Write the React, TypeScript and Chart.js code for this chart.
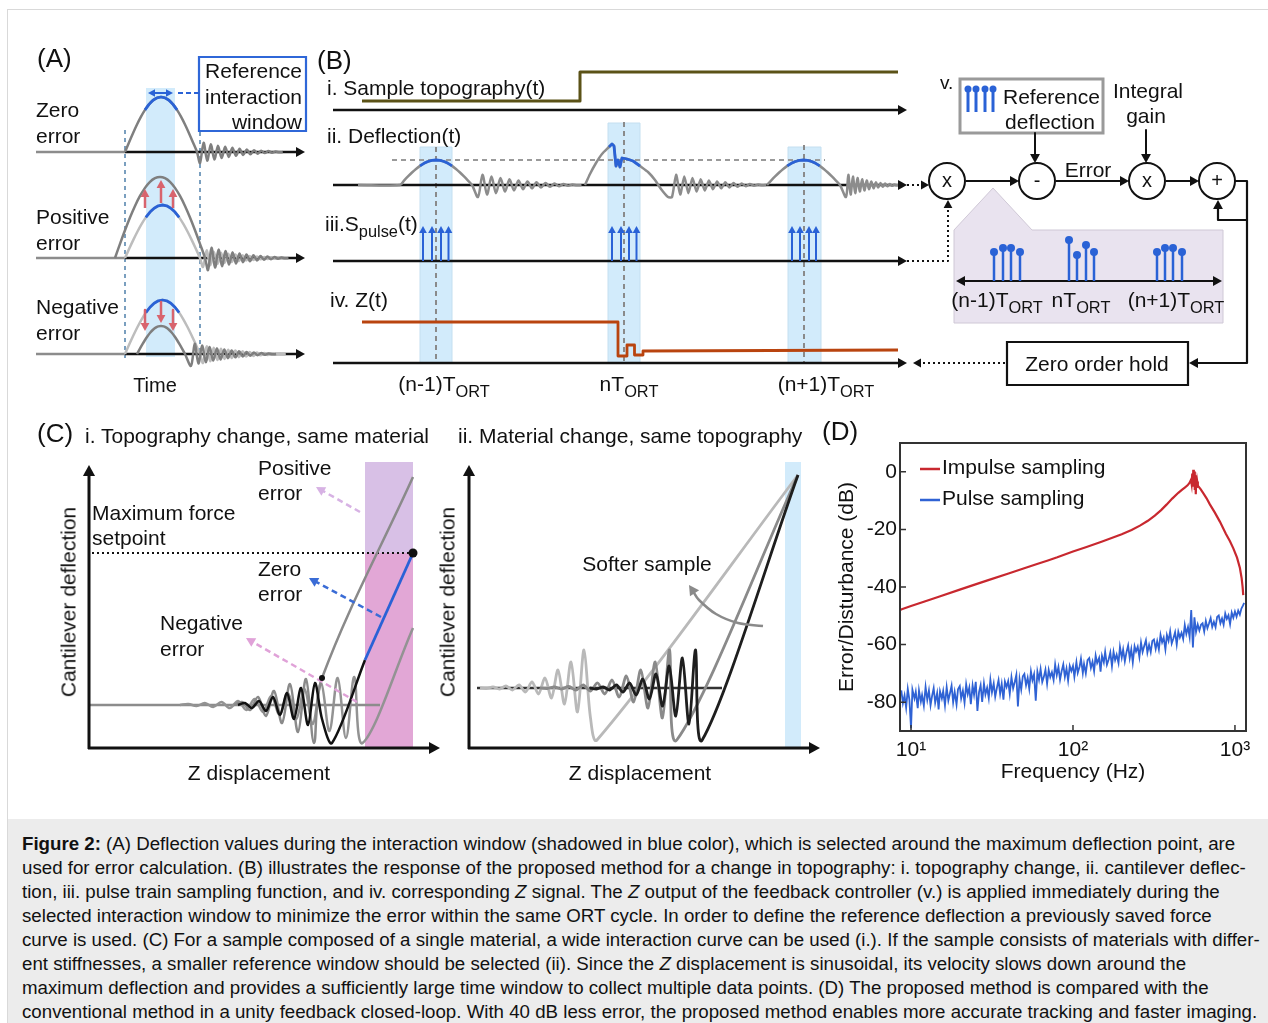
import React, { useEffect, useRef } from 'react';
import { Chart, registerables } from 'chart.js';

Chart.register(...registerables);

const FONT = '"Liberation Sans", Arial, Helvetica, sans-serif';
const INK = '#111111';
const RED = '#c8282f';
const BLUE = '#2f62d4';
const SBLUE = '#2a62d6';
const GRAY_D = '#7f7f7f';
const GRAY_M = '#8c8c8c';
const GRAY_L = '#bdbdbd';

// ================= Panel D data =================
const xTickValues = [10, 100, 1000];
const xTickLabels = ['10¹', '10²', '10³'];
const yTickValues = [0, -20, -40, -60, -80];
const seriesLabels = ['Impulse sampling', 'Pulse sampling'];

const impulseFreq = [
  8.55, 8.77, 10, 12, 15, 20, 25, 30, 40, 50, 60, 70, 80, 100, 120, 150, 200, 230, 259, 290,
  320, 350, 378, 410, 447, 470, 490, 510, 525, 535, 540, 545, 549, 553, 557, 561, 565, 569, 573, 577,
  581, 585, 590, 600, 615, 640, 668, 700, 750, 807, 880, 930, 977, 1030, 1073, 1100, 1115, 1125,
];
const impulseDb = [
  -48, -47.7, -46.6, -45.1, -43.3, -40.9, -39.1, -37.6, -35.3, -33.5, -32, -30.8, -29.7, -27.7, -26.2, -24.3, -21.7, -20.2, -18.7, -17,
  -15.2, -13.3, -11.4, -9.3, -7.3, -6.3, -5.5, -4.7, -3.8, -2.8, -4.2, -0.6, -5.2, 0.7, -3.2, 0.1, -6.3, -1.2, -7.8, -2.3,
  -5.6, -3.4, -4.8, -5.3, -6.1, -7.6, -9.2, -11.3, -14.1, -17.3, -21.6, -24, -26.6, -29.8, -33.4, -37, -40, -42.8,
];

const pulseFreq = [
  8.71, 8.91, 9.12, 9.33, 9.55, 9.77,
  10.0, 10.2, 10.5, 10.7, 11.0, 11.2, 11.5, 11.7, 12.0, 12.3,
  12.6, 12.9, 13.2, 13.5, 13.8, 14.1, 14.5, 14.8, 15.1, 15.5,
  15.8, 16.2, 16.6, 17.0, 17.4, 17.8, 18.2, 18.6, 19.1, 19.5,
  20.0, 20.4, 20.9, 21.4, 21.9, 22.4, 22.9, 23.4, 24.0, 24.5,
  25.1, 25.7, 26.3, 26.9, 27.5, 28.2, 28.8, 29.5, 30.2, 30.9,
  31.6, 32.4, 33.1, 33.9, 34.7, 35.5, 36.3, 37.2, 38.0, 38.9,
  39.8, 40.7, 41.7, 42.7, 43.7, 44.7, 45.7, 46.8, 47.9, 49.0,
  50.1, 51.3, 52.5, 53.7, 55.0, 56.2, 57.5, 58.9, 60.3, 61.7,
  63.1, 64.6, 66.1, 67.6, 69.2, 70.8, 72.4, 74.1, 75.9, 77.6,
  79.4, 81.3, 83.2, 85.1, 87.1, 89.1, 91.2, 93.3, 95.5, 97.7,
  100, 102, 105, 107, 110, 112, 115, 117, 120, 123,
  126, 129, 132, 135, 138, 141, 145, 148, 151, 155,
  158, 162, 166, 170, 174, 178, 182, 186, 191, 195,
  200, 204, 209, 214, 219, 224, 229, 234, 240, 245,
  251, 257, 263, 269, 275, 282, 288, 295, 302, 309,
  316, 324, 331, 339, 347, 355, 363, 372, 380, 389,
  398, 407, 417, 427, 437, 447, 457, 468, 479, 490,
  501, 513, 525, 537, 550, 562, 575, 589, 603, 617,
  631, 646, 661, 676, 692, 708, 724, 741, 759, 776,
  794, 813, 832, 851, 871, 891, 912, 933, 955, 977,
  1000, 1023, 1047, 1072, 1096, 1122, 1140,
];
const pulseDb = [
  -75.9, -80.3, -77.6, -81.9, -75.4, -79.1,
  -89, -75.6, -78.7, -76.4, -82.1, -75.9, -79.8, -77.5, -81.2, -74.7,
  -79.2, -75.9, -81.1, -77.7, -75.1, -80.2, -76.8, -82.5, -76.2, -78.7,
  -76.1, -81.1, -74.8, -79.4, -76.9, -74.3, -80, -76.4, -80.8, -75.5,
  -74.4, -78.7, -76, -80.2, -73.8, -77.2, -74.9, -80.7, -74.2, -77.4,
  -72.9, -83, -76.5, -74.1, -79.9, -73.5, -77.3, -75, -78.6, -72.2,
  -76.6, -73.5, -78.1, -75, -72.3, -77.1, -73.6, -79.1, -72.8, -74.7,
  -72.7, -77.1, -71.3, -75.2, -73, -70.5, -81.5, -72, -75.6, -71,
  -70.2, -74.1, -71.5, -75.3, -69.3, -72.4, -70.3, -79.5, -69.4, -72.2,
  -68.5, -73, -71.2, -68.7, -73.6, -68.8, -71.3, -69.6, -72.3, -66.9,
  -70.6, -67.8, -72.2, -69.2, -66.9, -71.2, -68.3, -72.5, -67.4, -69.2,
  -67.4, -71.2, -66.1, -69.8, -67.5, -64.9, -69.9, -66.7, -70, -65.4,
  -64.7, -68.1, -65.9, -69.2, -63.8, -66.4, -64.6, -69.4, -63.9, -66.2,
  -62.5, -67, -65.2, -62.7, -67.5, -62.5, -65.4, -63.5, -66.4, -60.8,
  -64.5, -61.7, -65.8, -62.6, -60.3, -64.7, -61.6, -66.2, -60.6, -62.4,
  -60.7, -64.3, -59.3, -62.6, -60.6, -58.5, -62.8, -60.1, -62.6, -58.7,
  -58.2, -61.5, -58.8, -61.7, -56.6, -59.2, -57.6, -61.7, -56.7, -58.7,
  -55.4, -59.6, -57.8, -55.7, -60, -55.5, -57.5, -55.9, -58.1, -53.2,
  -56.3, -53.9, -57.4, -48, -61, -50.5, -55.6, -53, -55.1, -53.1,
  -52.6, -55.5, -51.8, -54.3, -52.6, -50.8, -53.9, -52.1, -54, -50.4,
  -49.9, -52.6, -50.9, -53.1, -49.2, -51.1, -49.8, -52.9, -48.9, -50.7,
  -48.5, -50.3, -48.2, -49.6, -47.5, -46.4, -45.5,
];

// ================= Schematic data (panels A, B, C) =================
type Pt = [number, number];
interface Stroke { pts: Pt[]; color: string; width?: number; dash?: number[]; tension?: number; head?: 'end' | 'start' | 'both'; hs?: number }
interface Shape { pts: Pt[]; fill?: string; stroke?: string; width?: number }
interface Dot { x: number; y: number; r: number; fill: string; stroke?: string; width?: number }

const archShape = [0, 0.174, 0.342, 0.5, 0.643, 0.766, 0.866, 0.94, 0.985, 1, 0.985, 0.94, 0.866, 0.766, 0.643, 0.5, 0.342, 0.174, 0];
const ringShape = [1, -0.85, 0.8, -0.7, 0.68, -0.58, 0.55, -0.47, 0.45, -0.38, 0.35, -0.3, 0.28, -0.23, 0.21, -0.17, 0.15, -0.12, 0.1, -0.08, 0.06, -0.04, 0.03, 0];
const ciWaveA = [0, -1, 1, -2, 2, -3, 3, -4, 5, -6, 7, -9, 10, -12, 14, -16, 19, -22, 26, -27, 33, -28, 38];
const ciWaveB = [0, -3, 5, -8, 11, -14, 18, -21, 27, -26, 38, -27];
const ciWaveC = [0, -2, 3, -4, 6, -8, 10, -12, 14, -17, 20, -22, 14];
const ciiLight = [0, 0.5, -1, 1, -2, 2, -3, 4, -6, 6, -10, 10, -18, 16, -26, 24, -38, 30, 52];
const ciiMid = [0, 0.5, -1, 1, -1.5, 2, -3, 3, -5, 6, -8, 9, -12, 14, -18, 20, -26, 30, -38, 52];
const ciiDark = [0, 1, -1, 2, -3, 4, -5, 7, -9, 11, -14, 18, -22, 28, -30, 36, -38, 52];

const archPts = (x0: number, x1: number, base: number, amp: number, from = 0, to = archShape.length - 1): Pt[] => {
  const n = archShape.length - 1;
  const out: Pt[] = [];
  for (let k = from; k <= to; k++) out.push([x0 + ((x1 - x0) * k) / n, base - amp * archShape[k]]);
  return out;
};
const ringPts = (x0: number, step: number, base: number, amp: number): Pt[] => ringShape.map((v, k) => [x0 + step * k, base + amp * v]);
const wavePts = (x0: number, step: number, base: number, offs: number[]): Pt[] => offs.map((v, k) => [x0 + step * k, base + v]);
const rect = (x0: number, y0: number, x1: number, y1: number): Pt[] => [[x0, y0], [x1, y0], [x1, y1], [x0, y1]];

const aRowsY = [152, 258, 354];
const aRedArrows: [number, number, number][] = [[145, 208, 189], [161, 203, 180], [173, 208, 189], [145, 310, 331], [161, 302, 323], [173, 310, 331]];
const bAxesY = [110, 185, 261, 363];
const bBands: [number, number, number, number][] = [[420, 147, 452, 363], [608, 123, 640, 363], [788, 147, 821, 363]];
const bCenters: [number, number][] = [[436, 147], [624, 122], [804, 145]];
const bPulseX = [423, 432, 441, 448.5, 612, 621, 629, 636.5, 792, 800, 809, 816];
const topoLine: Pt[] = [[362, 101], [580, 101], [580, 72], [898, 72]];
const zLine: Pt[] = [[362, 322], [618, 322], [618, 356], [627, 356], [627, 345], [634.5, 345], [634.5, 355], [643, 355], [643, 351], [898, 350]];
const defl2Rise: Pt[] = [[585, 185], [590, 174], [596, 163], [602, 154], [609, 147]];
const defl2Blue: Pt[] = [[609, 147], [612, 144], [614, 146], [616, 166], [618, 160], [620, 167], [622, 158], [627, 159], [633, 161], [640, 166]];
const defl2Fall: Pt[] = [[640, 166], [648, 172], [655, 180], [661, 189], [668, 197]];
const junctions: Pt[] = [[947, 181], [1037, 181], [1147, 181], [1217, 181]];
const refIconX = [968, 976, 985, 993];
const calloutStems: Pt[] = [
  [994, 252], [1003, 248], [1011, 248], [1020, 252],
  [1069, 240], [1077, 255], [1086, 245], [1094, 252],
  [1157, 252], [1165, 248], [1173, 248], [1182, 252],
];

const strokes: Stroke[] = [
  // ---- Panel A ----
  { pts: [[125, 130], [125, 358]], color: '#7a9fbf', width: 2, dash: [4, 4] },
  { pts: [[200, 132], [200, 358]], color: '#7a9fbf', width: 2, dash: [4, 4] },
  ...aRowsY.map((y) => ({ pts: [[36, y], [125, y]] as Pt[], color: GRAY_M, width: 2.5 })),
  ...aRowsY.map((y) => ({ pts: [[125, y], [305, y]] as Pt[], color: INK, width: 2.5, head: 'end' as const, hs: 9 })),
  { pts: [...archPts(125, 197, 152, 55), ...ringPts(200, 3.6, 152, 11)], color: GRAY_D, width: 2.5, tension: 0.3 },
  { pts: archPts(125, 197, 152, 55, 5, 13), color: SBLUE, width: 2.8 },
  { pts: [...archPts(125, 200, 258, 53), ...ringPts(203, 3.6, 258, 9)], color: GRAY_L, width: 2.5, tension: 0.3 },
  { pts: [...archPts(115, 205, 258, 81), ...ringPts(208, 3.5, 258, 12)], color: GRAY_D, width: 2.5, tension: 0.3 },
  { pts: archPts(125, 200, 258, 53, 5, 13), color: SBLUE, width: 2.8 },
  { pts: [...archPts(125, 200, 354, 54), ...ringPts(203, 3.6, 354, 9)], color: GRAY_L, width: 2.5, tension: 0.3 },
  { pts: [...archPts(137, 185, 354, 28), ...ringPts(191, 3.7, 354, 12)], color: GRAY_D, width: 2.5, tension: 0.3 },
  { pts: archPts(125, 200, 354, 54, 5, 13), color: SBLUE, width: 2.8 },
  ...aRedArrows.map(([x, y0, y1]) => ({ pts: [[x, y0], [x, y1]] as Pt[], color: '#d8646e', width: 2.5, head: 'end' as const, hs: 8 })),
  { pts: [[199, 93], [177, 93]], color: SBLUE, width: 2, dash: [5, 3] },
  { pts: [[148, 93], [173, 93]], color: SBLUE, width: 2, head: 'both', hs: 7 },
  // ---- Panel B ----
  ...bCenters.map(([x, y]) => ({ pts: [[x, y], [x, 363]] as Pt[], color: '#8a8a8a', width: 2, dash: [5, 4] })),
  ...bAxesY.map((y) => ({ pts: [[333, y], [907, y]] as Pt[], color: INK, width: 2.5, head: 'end' as const, hs: 9 })),
  { pts: topoLine, color: '#5b5217', width: 3 },
  { pts: [[392, 160], [825, 160]], color: '#9a9a9a', width: 2, dash: [5, 4] },
  { pts: [[358, 185], ...archPts(400, 472, 185, 25), ...ringPts(478, 4.5, 185, 12)], color: GRAY_M, width: 2.5, tension: 0.3 },
  { pts: archPts(400, 472, 185, 25, 5, 13), color: SBLUE, width: 2.8 },
  { pts: [...defl2Rise, ...defl2Blue, ...defl2Fall, ...ringPts(672, 4.1, 185, 12)], color: GRAY_M, width: 2.5, tension: 0.2 },
  { pts: defl2Blue, color: SBLUE, width: 2.8 },
  { pts: [...archPts(767, 840, 185, 25), ...ringPts(846, 2.3, 185, 12)], color: GRAY_M, width: 2.5, tension: 0.3 },
  { pts: archPts(767, 840, 185, 25, 5, 13), color: SBLUE, width: 2.8 },
  ...bPulseX.map((x) => ({ pts: [[x, 261], [x, 226]] as Pt[], color: SBLUE, width: 2, head: 'end' as const, hs: 7 })),
  { pts: zLine, color: '#b9440f', width: 2.8 },
  // ---- Block diagram v ----
  { pts: [[907, 185], [929, 185]], color: INK, width: 2, dash: [2, 3], head: 'end', hs: 8 },
  { pts: [[907, 261], [948, 261], [948, 200]], color: INK, width: 2, dash: [2, 3], head: 'end', hs: 8 },
  { pts: [[1005, 363], [913, 363]], color: INK, width: 2, dash: [2, 3], head: 'end', hs: 8 },
  { pts: [[966, 181], [1019, 181]], color: INK, width: 2, head: 'end', hs: 9 },
  { pts: [[1056, 181], [1129, 181]], color: INK, width: 2, head: 'end', hs: 9 },
  { pts: [[1166, 181], [1199, 181]], color: INK, width: 2, head: 'end', hs: 9 },
  { pts: [[1035, 133], [1035, 163]], color: INK, width: 2, head: 'end', hs: 9 },
  { pts: [[1146, 130], [1146, 163]], color: INK, width: 2, head: 'end', hs: 9 },
  { pts: [[1235, 181], [1247, 181], [1247, 363], [1189, 363]], color: INK, width: 2.2, head: 'end', hs: 9 },
  { pts: [[1247, 220], [1218, 220], [1218, 200]], color: INK, width: 2.2, head: 'end', hs: 9 },
  { pts: [[956, 281], [1222, 281]], color: INK, width: 2.2, head: 'both', hs: 9 },
  ...calloutStems.map(([x, y]) => ({ pts: [[x, 281], [x, y]] as Pt[], color: SBLUE, width: 2.5 })),
  ...refIconX.map((x) => ({ pts: [[x, 112], [x, 89]] as Pt[], color: SBLUE, width: 3 })),
  // ---- Panel C-i ----
  { pts: [[92, 553], [413, 553]], color: INK, width: 2, dash: [2, 3] },
  { pts: [[89, 705], [380, 705]], color: GRAY_M, width: 2.5 },
  { pts: [...wavePts(180, 8.3, 705, ciWaveA), [413, 628]], color: '#939393', width: 2.5, tension: 0.35 },
  { pts: [...wavePts(234, 8, 705, ciWaveB), [413, 477]], color: '#8a8a8a', width: 2.5, tension: 0.35 },
  { pts: [...wavePts(238, 7, 705, ciWaveC), [332, 743], [365, 660]], color: INK, width: 2.5, tension: 0.3 },
  { pts: [[365, 660], [413, 553]], color: SBLUE, width: 2.8 },
  { pts: [[360, 512], [316, 487]], color: '#d7b2e4', width: 2.5, dash: [6, 4], head: 'end', hs: 9 },
  { pts: [[381, 617], [309, 578]], color: '#3a6cd6', width: 2.5, dash: [6, 4], head: 'end', hs: 9 },
  { pts: [[357, 702], [246, 638]], color: '#e0a2d8', width: 2.5, dash: [6, 4], head: 'end', hs: 9 },
  { pts: [[89, 749], [89, 465]], color: INK, width: 3, head: 'end', hs: 11 },
  { pts: [[88, 748], [440, 748]], color: INK, width: 3, head: 'end', hs: 11 },
  // ---- Panel C-ii ----
  { pts: [[477, 688], [722, 688]], color: '#333333', width: 2.5 },
  { pts: [...wavePts(480, 6.5, 688, ciiLight), [798, 475]], color: '#b9b9b9', width: 2.8, tension: 0.3 },
  { pts: [...wavePts(540, 7.2, 688, ciiMid), [798, 475]], color: '#8a8a8a', width: 2.8, tension: 0.3 },
  { pts: [...wavePts(590, 6.6, 688, ciiDark), [798, 475]], color: '#1e1e1e', width: 2.8, tension: 0.3 },
  { pts: [[763, 626], [738, 623], [716, 614], [699, 600], [689, 585]], color: '#8a8a8a', width: 2.5, tension: 0.4, head: 'end', hs: 10 },
  { pts: [[469, 749], [469, 465]], color: INK, width: 3, head: 'end', hs: 11 },
  { pts: [[468, 748], [820, 748]], color: INK, width: 3, head: 'end', hs: 11 },
];

const shapes: Shape[] = [
  { pts: rect(146, 88, 175, 357), fill: '#d2ebfb' },
  { pts: rect(199, 57, 306, 131), fill: '#ffffff', stroke: '#2f67d8', width: 2.2 },
  ...bBands.map(([x0, y0, x1, y1]) => ({ pts: rect(x0, y0, x1, y1), fill: '#d2ebfb', stroke: '#c4dff0', width: 1 })),
  { pts: rect(960, 79, 1103, 133), fill: '#ffffff', stroke: '#9a9a9a', width: 3 },
  { pts: [[954, 323], [954, 230], [993, 188], [1032, 230], [1223, 230], [1223, 323]], fill: '#e9e3ef', stroke: '#cfc8d6', width: 1 },
  { pts: rect(1007, 342, 1188, 385), fill: '#ffffff', stroke: INK, width: 2.2 },
  { pts: rect(365, 462, 413, 553), fill: '#d8c0e6' },
  { pts: rect(365, 553, 413, 748), fill: '#e2a7d6' },
  { pts: rect(785, 462, 801, 748), fill: '#d2ebfb' },
];

const dots: Dot[] = [
  ...junctions.map(([x, y]) => ({ x, y, r: 18, fill: '#ffffff', stroke: INK, width: 2 })),
  ...calloutStems.map(([x, y]) => ({ x, y, r: 4, fill: SBLUE })),
  ...refIconX.map((x) => ({ x, y: 89, r: 3.5, fill: SBLUE })),
  { x: 413, y: 553, r: 4.5, fill: INK },
  { x: 322, y: 678, r: 3, fill: INK },
];

interface Label { t: string; x: number; y: number; s?: number; a?: 'l' | 'c' | 'r'; rot?: boolean }
const labels: Label[] = [
  { t: '(A)', x: 37, y: 58, s: 26 },
  { t: 'Zero', x: 36, y: 109 }, { t: 'error', x: 36, y: 135 },
  { t: 'Positive', x: 36, y: 216 }, { t: 'error', x: 36, y: 242 },
  { t: 'Negative', x: 36, y: 306 }, { t: 'error', x: 36, y: 332 },
  { t: 'Time', x: 155, y: 385, a: 'c', s: 20 },
  { t: 'Reference', x: 302, y: 70, a: 'r' }, { t: 'interaction', x: 302, y: 96, a: 'r' }, { t: 'window', x: 302, y: 121, a: 'r' },
  { t: '(B)', x: 317, y: 60, s: 26 },
  { t: 'i. Sample topography(t)', x: 327, y: 87 },
  { t: 'ii. Deflection(t)', x: 327, y: 135 },
  { t: 'iii.S_{pulse}(t)', x: 325, y: 223 },
  { t: 'iv. Z(t)', x: 330, y: 299 },
  { t: '(n-1)T_{ORT}', x: 444, y: 383, a: 'c' },
  { t: 'nT_{ORT}', x: 629, y: 383, a: 'c' },
  { t: '(n+1)T_{ORT}', x: 826, y: 383, a: 'c' },
  { t: 'v.', x: 940, y: 82, s: 19 },
  { t: 'Reference', x: 1003, y: 96 },
  { t: 'deflection', x: 1050, y: 121, a: 'c' },
  { t: 'Integral', x: 1148, y: 90, a: 'c' },
  { t: 'gain', x: 1146, y: 115, a: 'c' },
  { t: 'Error', x: 1088, y: 169, a: 'c' },
  { t: 'x', x: 947, y: 180, a: 'c', s: 20 }, { t: '-', x: 1037, y: 180, a: 'c', s: 20 },
  { t: 'x', x: 1147, y: 180, a: 'c', s: 20 }, { t: '+', x: 1217, y: 180, a: 'c', s: 20 },
  { t: '(n-1)T_{ORT}', x: 997, y: 299, a: 'c' },
  { t: 'nT_{ORT}', x: 1081, y: 299, a: 'c' },
  { t: '(n+1)T_{ORT}', x: 1176, y: 299, a: 'c' },
  { t: 'Zero order hold', x: 1097, y: 363, a: 'c' },
  { t: '(C)', x: 37, y: 433, s: 26 },
  { t: 'i. Topography change, same material', x: 85, y: 435 },
  { t: 'ii. Material change, same topography', x: 458, y: 435 },
  { t: '(D)', x: 822, y: 431, s: 26 },
  { t: 'Maximum force', x: 92, y: 512 }, { t: 'setpoint', x: 92, y: 537 },
  { t: 'Positive', x: 258, y: 467 }, { t: 'error', x: 258, y: 492 },
  { t: 'Zero', x: 258, y: 568 }, { t: 'error', x: 258, y: 593 },
  { t: 'Negative', x: 160, y: 622 }, { t: 'error', x: 160, y: 648 },
  { t: 'Cantilever deflection', x: 68, y: 602, a: 'c', rot: true },
  { t: 'Z displacement', x: 259, y: 772, a: 'c' },
  { t: 'Cantilever deflection', x: 447, y: 602, a: 'c', rot: true },
  { t: 'Z displacement', x: 640, y: 772, a: 'c' },
  { t: 'Softer sample', x: 647, y: 563, a: 'c' },
];

// ================= helpers =================
function drawHead(ctx: CanvasRenderingContext2D, tip: Pt, from: Pt, size: number, color: string) {
  const ang = Math.atan2(tip[1] - from[1], tip[0] - from[0]);
  const bx = tip[0] - size * Math.cos(ang);
  const by = tip[1] - size * Math.sin(ang);
  const w = size * 0.55;
  ctx.beginPath();
  ctx.moveTo(tip[0], tip[1]);
  ctx.lineTo(bx + w * Math.sin(ang), by - w * Math.cos(ang));
  ctx.lineTo(bx - w * Math.sin(ang), by + w * Math.cos(ang));
  ctx.closePath();
  ctx.fillStyle = color;
  ctx.fill();
}

function shorten(tip: Pt, from: Pt, d: number): Pt {
  const ang = Math.atan2(tip[1] - from[1], tip[0] - from[0]);
  return [tip[0] - d * Math.cos(ang), tip[1] - d * Math.sin(ang)];
}

const schematicPlugin = {
  id: 'schematicDecor',
  beforeDatasetsDraw(chart: any) {
    const ctx: CanvasRenderingContext2D = chart.ctx;
    const X = (v: number) => chart.scales.x.getPixelForValue(v);
    const Y = (v: number) => chart.scales.y.getPixelForValue(v);
    ctx.save();
    for (const s of shapes) {
      ctx.beginPath();
      s.pts.forEach(([x, y], i) => (i ? ctx.lineTo(X(x), Y(y)) : ctx.moveTo(X(x), Y(y))));
      ctx.closePath();
      if (s.fill) { ctx.fillStyle = s.fill; ctx.fill(); }
      if (s.stroke) { ctx.setLineDash([]); ctx.strokeStyle = s.stroke; ctx.lineWidth = s.width ?? 1; ctx.stroke(); }
    }
    ctx.restore();
  },
  afterDatasetsDraw(chart: any) {
    const ctx: CanvasRenderingContext2D = chart.ctx;
    const X = (v: number) => chart.scales.x.getPixelForValue(v);
    const Y = (v: number) => chart.scales.y.getPixelForValue(v);
    const P = (p: Pt): Pt => [X(p[0]), Y(p[1])];
    ctx.save();
    for (const st of strokes) {
      if (!st.head) continue;
      const p = st.pts;
      const n = p.length;
      const hs = st.hs ?? 8;
      if (st.head === 'end' || st.head === 'both') drawHead(ctx, P(p[n - 1]), P(p[n - 2]), hs, st.color);
      if (st.head === 'start' || st.head === 'both') drawHead(ctx, P(p[0]), P(p[1]), hs, st.color);
    }
    for (const d of dots) {
      ctx.beginPath();
      ctx.arc(X(d.x), Y(d.y), d.r, 0, Math.PI * 2);
      ctx.fillStyle = d.fill;
      ctx.fill();
      if (d.stroke) { ctx.setLineDash([]); ctx.strokeStyle = d.stroke; ctx.lineWidth = d.width ?? 1; ctx.stroke(); }
    }
    ctx.restore();
  },
};

function Schematic() {
  const ref = useRef<HTMLCanvasElement>(null);
  useEffect(() => {
    if (!ref.current) return;
    const datasets = strokes
      .map((st) => {
        const pts = st.pts.slice();
        const hs = st.hs ?? 8;
        if (st.head === 'end' || st.head === 'both') pts[pts.length - 1] = shorten(pts[pts.length - 1], pts[pts.length - 2], hs * 0.6);
        if (st.head === 'start' || st.head === 'both') pts[0] = shorten(pts[0], pts[1], hs * 0.6);
        return {
          data: pts.map(([x, y]) => ({ x, y })),
          showLine: true,
          borderColor: st.color,
          backgroundColor: st.color,
          borderWidth: st.width ?? 2,
          borderDash: st.dash ?? [],
          tension: st.tension ?? 0,
          pointRadius: 0,
          pointHoverRadius: 0,
          fill: false,
          borderCapStyle: 'butt',
          borderJoinStyle: 'round',
        };
      })
      .reverse();
    const chart = new Chart(ref.current, {
      type: 'scatter',
      data: { datasets: datasets as any },
      options: {
        responsive: false,
        animation: false,
        devicePixelRatio: 1,
        events: [],
        layout: { padding: 0 },
        plugins: { legend: { display: false }, tooltip: { enabled: false } },
        scales: {
          x: { type: 'linear', min: 0, max: 1268, display: false },
          y: { type: 'linear', min: 0, max: 820, reverse: true, display: false },
        },
      },
      plugins: [schematicPlugin],
    } as any);
    return () => chart.destroy();
  }, []);
  return <canvas ref={ref} width={1268} height={820} style={{ position: 'absolute', left: 0, top: 0 }} />;
}

const panelDPlugin = {
  id: 'panelDFrame',
  afterDraw(chart: any) {
    const ctx: CanvasRenderingContext2D = chart.ctx;
    const a = chart.chartArea;
    const xs = chart.scales.x;
    const ys = chart.scales.y;
    ctx.save();
    ctx.strokeStyle = '#333333';
    ctx.lineWidth = 2;
    ctx.strokeRect(a.left, a.top, a.right - a.left, a.bottom - a.top);
    ctx.lineWidth = 1.5;
    ctx.beginPath();
    yTickValues.forEach((v) => { const py = ys.getPixelForValue(v); ctx.moveTo(a.left, py); ctx.lineTo(a.left + 6, py); });
    xTickValues.forEach((v) => { const px = xs.getPixelForValue(v); ctx.moveTo(px, a.bottom); ctx.lineTo(px, a.bottom - 6); });
    ctx.stroke();
    const colors = [RED, BLUE];
    ctx.font = `21px ${FONT}`;
    ctx.textBaseline = 'middle';
    ctx.textAlign = 'left';
    seriesLabels.forEach((lab, i) => {
      const y = a.top + 25 + i * 31;
      ctx.strokeStyle = colors[i];
      ctx.lineWidth = 2.5;
      ctx.beginPath();
      ctx.moveTo(a.left + 20, y + 1);
      ctx.lineTo(a.left + 40, y + 1);
      ctx.stroke();
      ctx.fillStyle = INK;
      ctx.fillText(lab, a.left + 42, y);
    });
    ctx.restore();
  },
};

function PanelD() {
  const ref = useRef<HTMLCanvasElement>(null);
  useEffect(() => {
    if (!ref.current) return;
    const chart = new Chart(ref.current, {
      type: 'scatter',
      data: {
        datasets: [
          {
            label: seriesLabels[0],
            data: impulseFreq.map((f, i) => ({ x: f, y: impulseDb[i] })),
            showLine: true, borderColor: RED, backgroundColor: RED, borderWidth: 2.2, pointRadius: 0, tension: 0,
          },
          {
            label: seriesLabels[1],
            data: pulseFreq.map((f, i) => ({ x: f, y: pulseDb[i] })),
            showLine: true, borderColor: BLUE, backgroundColor: BLUE, borderWidth: 1.8, pointRadius: 0, tension: 0,
          },
        ],
      },
      options: {
        responsive: false,
        animation: false,
        devicePixelRatio: 1,
        events: [],
        layout: { padding: { top: 23, right: 14, left: 0, bottom: 0 } },
        plugins: { legend: { display: false }, tooltip: { enabled: false } },
        scales: {
          x: {
            type: 'logarithmic', min: 8.55, max: 1170,
            afterBuildTicks: (s: any) => { s.ticks = xTickValues.map((v) => ({ value: v, major: true })); },
            afterFit: (s: any) => { s.height = 59; },
            grid: { display: false, drawTicks: false },
            border: { display: false },
            ticks: {
              autoSkip: false, maxRotation: 0, padding: 7, color: INK,
              font: { family: FONT, size: 21 },
              callback: (v: any) => xTickLabels[xTickValues.indexOf(Number(v))] ?? '',
            },
            title: { display: true, text: 'Frequency (Hz)', color: INK, font: { family: FONT, size: 21 }, padding: { top: 0, bottom: 5 } },
          },
          y: {
            type: 'linear', min: -90, max: 10,
            afterBuildTicks: (s: any) => { s.ticks = yTickValues.map((v) => ({ value: v })); },
            afterFit: (s: any) => { s.width = 80; },
            grid: { display: false, drawTicks: false },
            border: { display: false },
            ticks: { padding: 3, color: INK, font: { family: FONT, size: 21 } },
            title: { display: true, text: 'Error/Disturbance (dB)', color: INK, font: { family: FONT, size: 21 }, padding: { top: 15, bottom: 0 } },
          },
        },
      },
      plugins: [panelDPlugin],
    } as any);
    return () => chart.destroy();
  }, []);
  return <canvas ref={ref} width={440} height={370} style={{ position: 'absolute', left: 820, top: 420 }} />;
}

function rich(t: string) {
  const parts = t.split(/(_\{[^}]*\})/);
  return parts.map((p, i) =>
    p.startsWith('_{') ? (
      <span key={i} style={{ fontSize: '0.78em', position: 'relative', top: '0.35em' }}>{p.slice(2, -1)}</span>
    ) : (
      <React.Fragment key={i}>{p}</React.Fragment>
    )
  );
}

function Labels() {
  return (
    <>
      {labels.map((l, i) => {
        const tx = l.a === 'c' ? '-50%' : l.a === 'r' ? '-100%' : '0';
        return (
          <div
            key={i}
            style={{
              position: 'absolute', left: l.x, top: l.y,
              transform: `translate(${tx}, -50%)${l.rot ? ' rotate(-90deg)' : ''}`,
              fontSize: l.s ?? 21, lineHeight: 1, whiteSpace: 'nowrap', color: INK, fontFamily: FONT,
            }}
          >
            {rich(l.t)}
          </div>
        );
      })}
    </>
  );
}

function Caption() {
  const lineStyle: React.CSSProperties = { whiteSpace: 'nowrap', height: 24 };
  return (
    <div style={{ position: 'absolute', left: 22, top: 832, fontSize: 18.7, lineHeight: '24px', color: INK, fontFamily: FONT }}>
      <div style={lineStyle}><b>Figure 2:</b> (A) Deflection values during the interaction window (shadowed in blue color), which is selected around the maximum deflection point, are</div>
      <div style={lineStyle}>used for error calculation. (B) illustrates the response of the proposed method for a change in topography: i. topography change, ii. cantilever deflec-</div>
      <div style={lineStyle}>tion, iii. pulse train sampling function, and iv. corresponding <i>Z</i> signal. The <i>Z</i> output of the feedback controller (v.) is applied immediately during the</div>
      <div style={lineStyle}>selected interaction window to minimize the error within the same ORT cycle. In order to define the reference deflection a previously saved force</div>
      <div style={lineStyle}>curve is used. (C) For a sample composed of a single material, a wide interaction curve can be used (i.). If the sample consists of materials with differ-</div>
      <div style={lineStyle}>ent stiffnesses, a smaller reference window should be selected (ii). Since the <i>Z</i> displacement is sinusoidal, its velocity slows down around the</div>
      <div style={lineStyle}>maximum deflection and provides a sufficiently large time window to collect multiple data points. (D) The proposed method is compared with the</div>
      <div style={lineStyle}>conventional method in a unity feedback closed-loop. With 40 dB less error, the proposed method enables more accurate tracking and faster imaging.</div>
    </div>
  );
}

export default function App() {
  return (
    <div style={{ position: 'absolute', left: 0, top: 0, width: 1268, height: 1023, overflow: 'hidden', background: '#ffffff', fontFamily: FONT }}>
      <div style={{ position: 'absolute', left: 7, top: 9, width: 1300, height: 1100, border: '1px solid #d9d9d9', boxSizing: 'border-box' }} />
      <div style={{ position: 'absolute', left: 8, top: 819, width: 1300, height: 300, background: '#ececec' }} />
      <Schematic />
      <PanelD />
      <Labels />
      <Caption />
    </div>
  );
}
